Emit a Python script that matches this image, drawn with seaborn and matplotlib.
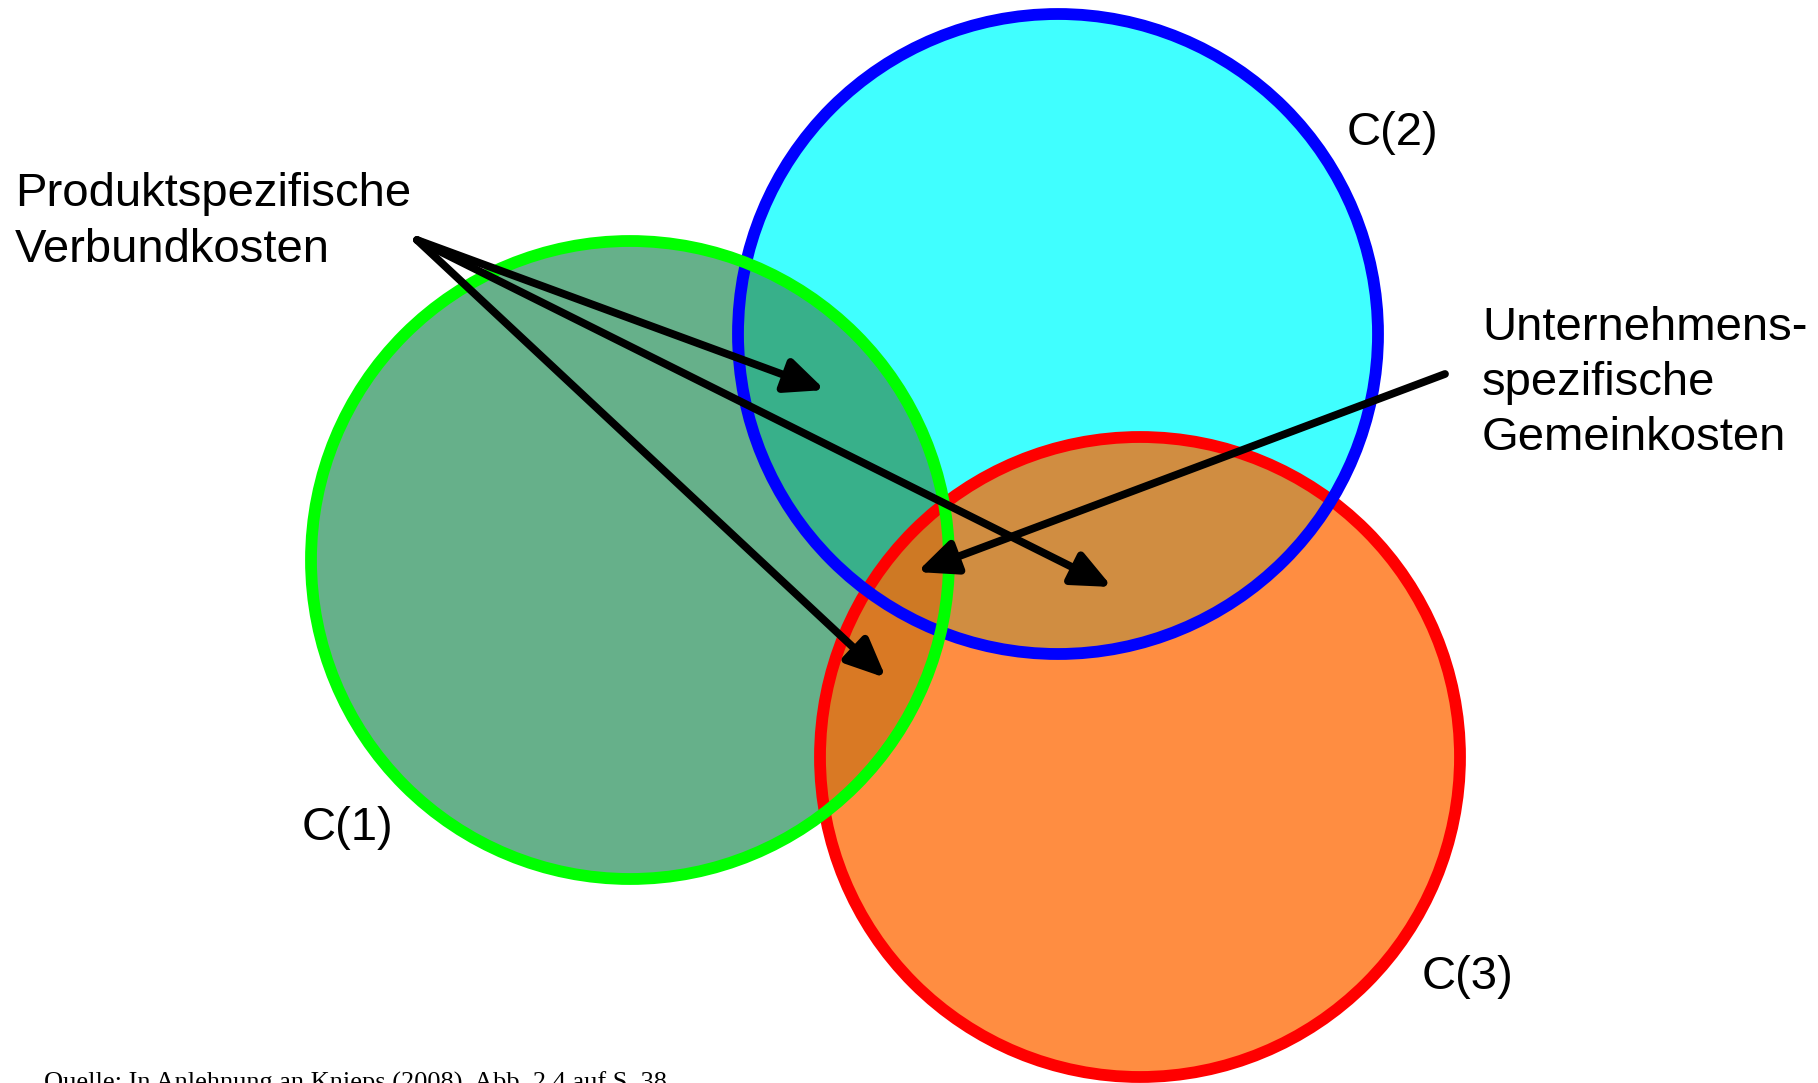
import matplotlib
matplotlib.use("Agg")
import matplotlib.pyplot as plt
from matplotlib.patches import Circle
import seaborn as sns

# Kreise (Pixelkoordinaten des Originals, y nach unten)
kreise = ['C(1)', 'C(2)', 'C(3)']
kreis_x = [630, 1058, 1140]
kreis_y = [560, 334, 757]
kreis_r = [319, 320, 320]

# Beschriftungen der Kreise
label_x = [302, 1347, 1422]
label_y = [840, 145, 989]

# Pfeile: Start -> Ziel
pfeil_start_x = [417, 417, 417, 1445]
pfeil_start_y = [240, 240, 240, 374]
pfeil_ziel_x = [825, 1112, 886, 917]
pfeil_ziel_y = [390, 587, 678, 572]

text_links = 'Produktspezifische\nVerbundkosten'
text_rechts = 'Unternehmens-\nspezifische\nGemeinkosten'
quelle = 'Quelle: In Anlehnung an Knieps (2008), Abb. 2.4 auf S. 38'

sns.set_style("white")
plt.rcParams['font.family'] = ['Liberation Sans', 'DejaVu Sans']
plt.rcParams['text.color'] = 'black'

fig = plt.figure(figsize=(18.18, 10.83), dpi=100)
ax = fig.add_axes([0, 0, 1, 1])
ax.set_xlim(0, 1818)
ax.set_ylim(1083, 0)
ax.set_aspect('equal')
ax.axis('off')

# Füllungen: C(2) unten, dann C(1), dann C(3) halbtransparent
fuellung = {'C(1)': ((54/255, 151/255, 101/255), 0.76),
            'C(2)': ((64/255, 1.0, 1.0), 1.0),
            'C(3)': ((1.0, 104/255, 4/255), 0.755)}
rand = {'C(1)': '#00FF00', 'C(2)': '#0000FF', 'C(3)': '#FF0000'}

for k in ['C(2)', 'C(1)', 'C(3)']:
    i = kreise.index(k)
    farbe, a = fuellung[k]
    ax.add_patch(Circle((kreis_x[i], kreis_y[i]), kreis_r[i], facecolor=farbe,
                        alpha=a, edgecolor='none', zorder=1))

for k in ['C(3)', 'C(2)', 'C(1)']:
    i = kreise.index(k)
    ax.add_patch(Circle((kreis_x[i], kreis_y[i]), kreis_r[i], facecolor='none',
                        edgecolor=rand[k], lw=8.5, zorder=2))

for i, k in enumerate(kreise):
    ax.text(label_x[i], label_y[i], k, fontsize=34, ha='left', va='baseline',
            color='black', zorder=4)

for sx, sy, zx, zy in zip(pfeil_start_x, pfeil_start_y, pfeil_ziel_x, pfeil_ziel_y):
    ax.annotate('', xy=(zx, zy), xytext=(sx, sy),
                arrowprops=dict(arrowstyle='-|>,head_length=0.45,head_width=0.2',
                                mutation_scale=52, lw=5.6, color='black',
                                shrinkA=0, shrinkB=0), zorder=3)

# va='baseline' richtet bei mehrzeiligem Text an der letzten Zeile aus
ax.text(15, 262, text_links, fontsize=34, ha='left', va='baseline',
        linespacing=1.34, color='black')
ax.text(1482, 450, text_rechts, fontsize=34, ha='left', va='baseline',
        linespacing=1.32, color='black')

ax.text(44, 1090, quelle, fontsize=19, ha='left', va='baseline', color='black',
        family=['Liberation Serif', 'DejaVu Serif'], clip_on=False)

fig.savefig('out.png', dpi=100)
